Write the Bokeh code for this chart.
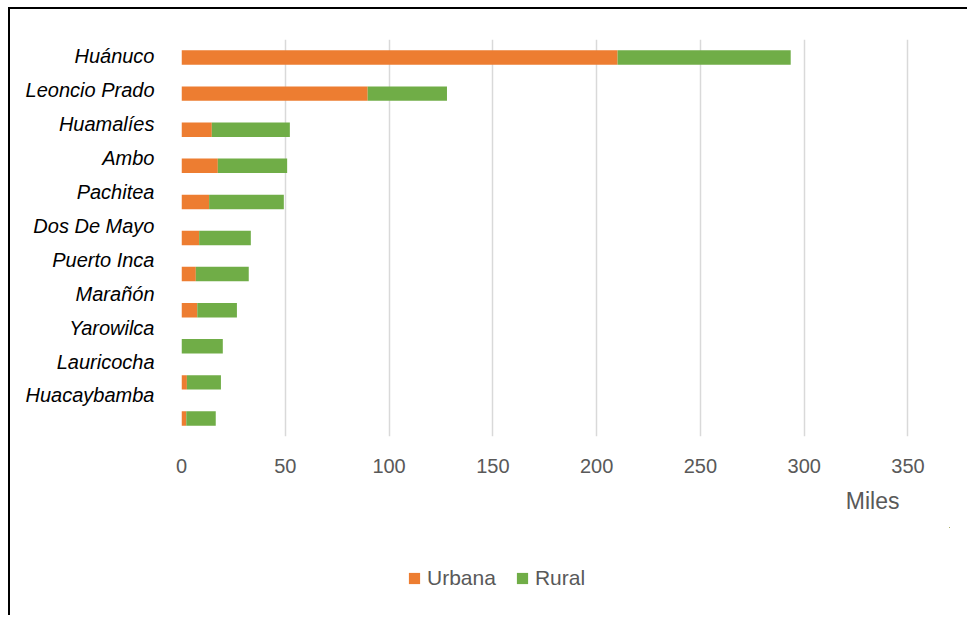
from bokeh.plotting import figure
from bokeh.layouts import column
from bokeh.models import (ColumnDataSource, Range1d, LinearAxis, FixedTicker,
                          Legend, LegendItem, Title)
from bokeh.embed import file_html
from bokeh.resources import INLINE

provinces = ["Huánuco", "Leoncio Prado", "Huamalíes", "Ambo", "Pachitea", "Dos De Mayo",
             "Puerto Inca", "Marañón", "Yarowilca", "Lauricocha", "Huacaybamba"]
urbana = [210.1, 89.7, 14.6, 17.5, 13.3, 8.5, 6.9, 7.6, 0.0, 2.6, 2.3]
rural = [83.4, 38.2, 37.6, 33.4, 36.0, 24.9, 25.5, 19.1, 19.9, 16.4, 14.2]
x_ticks = [0, 50, 100, 150, 200, 250, 300, 350]
series = ["Urbana", "Rural"]
colors = ["#ED7D31", "#70AD47"]

FONT = "Liberation Sans"

idx = list(range(len(provinces)))
source = ColumnDataSource(dict(pos=idx, prov=provinces, Urbana=urbana, Rural=rural))

p = figure(width=959, height=520, output_backend="svg", toolbar_location=None,
           x_range=Range1d(0, 370), y_range=Range1d(start=len(provinces) - 0.5, end=-0.5),
           y_axis_location=None, min_border_left=171, min_border_right=20,
           min_border_top=30, min_border_bottom=93)
p.margin = (7, 0, 0, 8)
p.styles = {"border-top": "2px solid black", "border-left": "2px solid black"}
p.outline_line_color = None
p.background_fill_color = "white"
p.border_fill_color = "white"

rs = p.hbar_stack(series, y="pos", height=0.4, fill_color=colors, line_color=None,
                  source=source)

# x axis
xa = p.xaxis[0]
xa.ticker = FixedTicker(ticks=x_ticks)
xa.axis_line_color = None
xa.major_tick_line_color = None
xa.minor_tick_line_color = None
xa.major_label_standoff = 16
xa.major_label_text_font = FONT
xa.major_label_text_font_size = "20px"
xa.major_label_text_color = "#595959"

p.xgrid.grid_line_color = "#D9D9D9"
p.xgrid.grid_line_width = 1.5
p.ygrid.grid_line_color = None

# category label axis (label rows are spaced slightly tighter than the bars, as in the original)
p.extra_y_ranges = {"lab": Range1d(start=11.21, end=-0.5)}
ya = LinearAxis(y_range_name="lab", ticker=FixedTicker(ticks=idx),
                major_label_overrides={i: name for i, name in zip(idx, provinces)})
ya.axis_line_color = None
ya.major_tick_line_color = None
ya.minor_tick_line_color = None
ya.major_label_standoff = 21
ya.major_label_text_font = FONT
ya.major_label_text_font_size = "20px"
ya.major_label_text_font_style = "italic"
ya.major_label_text_color = "black"
p.add_layout(ya, "left")

# axis title
t = Title(text="Miles", align="right", offset=50, text_font=FONT, text_font_size="23px",
          text_font_style="normal", text_color="#595959", standoff=20)
p.add_layout(t, "below")

# legend strip below the chart (same data; its bars fall outside this strip's view)
pl = figure(width=959, height=88, output_backend="svg", toolbar_location=None,
            x_range=Range1d(-2, -1), y_range=Range1d(-3, -2),
            x_axis_location=None, y_axis_location=None,
            min_border_left=0, min_border_right=0, min_border_top=0, min_border_bottom=0)
pl.margin = (0, 0, 0, 8)
pl.styles = {"border-left": "2px solid black"}
pl.outline_line_color = None
pl.xgrid.visible = False
pl.ygrid.visible = False
lrs = pl.hbar_stack(series, y="pos", height=0.4, fill_color=colors, line_color=None,
                    source=source)

legend = Legend(items=[LegendItem(label=s, renderers=[r]) for s, r in zip(series, lrs)],
                location=(226, 25), orientation="horizontal")
legend.glyph_width = 14
legend.glyph_height = 14
legend.label_standoff = 6
legend.spacing = 19
legend.padding = 0
legend.margin = 0
legend.border_line_color = None
legend.background_fill_alpha = 0
legend.label_text_font = FONT
legend.label_text_font_size = "21px"
legend.label_text_color = "#595959"
pl.add_layout(legend)

layout = column(p, pl, spacing=0)
open("out.html", "w").write(file_html(layout, INLINE))
